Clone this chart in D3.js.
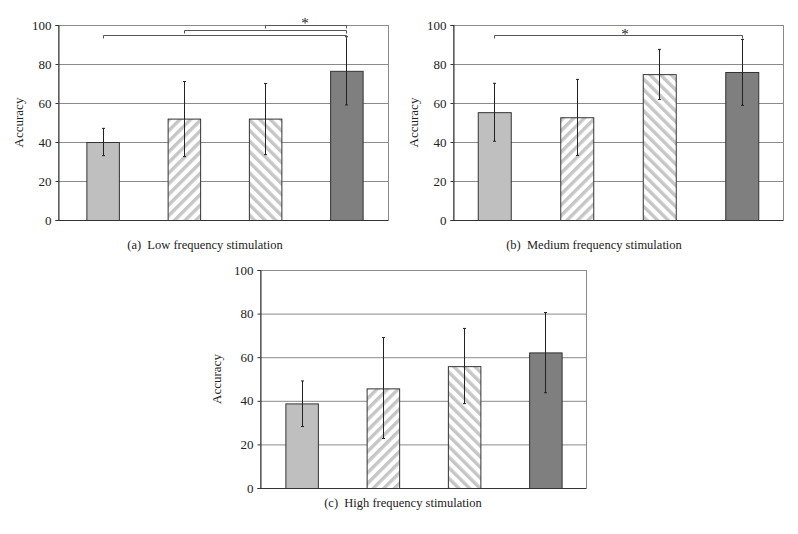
<!DOCTYPE html>
<html>
<head>
<meta charset="utf-8">
<script src="https://cdn.jsdelivr.net/npm/d3@7"></script>
<style>
  body { margin: 0; background: #fff; }
  svg { display: block; }
  text { font-family: "Liberation Serif", "DejaVu Serif", serif; fill: #222; }
</style>
</head>
<body>
<svg id="chart" width="798" height="534"></svg>
<script>
// 4 conditions, same in every panel
const conditions = ["c1", "c2", "c3", "c4"];
const yTicks = [0, 20, 40, 60, 80, 100];

// (a) low frequency
const lowMean = [40, 52, 52, 76.5];
const lowErrLo = [33, 32.5, 33.5, 59];
const lowErrHi = [47, 71, 70, 94];
const lowBrackets = [{ from: 0, to: 3, y: 94.8 }, { from: 1, to: 3, y: 97.4 }, { from: 2, to: 3, y: 100 }];

// (b) medium frequency
const medMean = [55.3, 52.7, 74.8, 75.9];
const medErrLo = [40.4, 33.1, 61.8, 58.8];
const medErrHi = [70.1, 72.1, 87.5, 92.6];
const medBrackets = [{ from: 0, to: 3, y: 95 }];

// (c) high frequency
const highMean = [38.8, 45.7, 55.9, 62.2];
const highErrLo = [28.2, 22.7, 38.7, 43.7];
const highErrHi = [49.1, 69, 73.2, 80.5];
const highBrackets = [];

const captions = ["(a)  Low frequency stimulation", "(b)  Medium frequency stimulation", "(c)  High frequency stimulation"];

const svg = d3.select("#chart");

// hatch patterns
const defs = svg.append("defs");
function hatch(id, angle) {
  const p = defs.append("pattern")
    .attr("id", id)
    .attr("patternUnits", "userSpaceOnUse")
    .attr("width", 7.5).attr("height", 7.5)
    .attr("patternTransform", `rotate(${angle})`);
  p.append("rect").attr("width", 7.5).attr("height", 7.5).attr("fill", "#fff");
  p.append("rect").attr("width", 3.4).attr("height", 7.5).attr("fill", "#c6c6c6");
}
hatch("hatchR", 45);
hatch("hatchL", -45);
const fills = ["#bfbfbf", "url(#hatchR)", "url(#hatchL)", "#7f7f7f"];

function drawPanel(cfg) {
  const g = svg.append("g");
  const y = d3.scaleLinear().domain([0, 100]).range([cfg.bottom, cfg.top]);
  const x = d3.scaleBand().domain(conditions).range(cfg.band).paddingInner(0.6).paddingOuter(0.3);

  // gridlines + frame
  g.selectAll(".grid").data(yTicks.filter(d => d > 0 && d < 100)).enter()
    .append("line")
    .attr("x1", cfg.left).attr("x2", cfg.right)
    .attr("y1", d => y(d) + 0.5).attr("y2", d => y(d) + 0.5)
    .attr("stroke", "#8a8a8a").attr("stroke-width", 1);
  g.append("rect")
    .attr("x", cfg.left + 0.5).attr("y", y(100) + 0.5)
    .attr("width", cfg.right - cfg.left).attr("height", y(0) - y(100))
    .attr("fill", "none").attr("stroke", "#8a8a8a");

  // axis
  const ax = g.append("g")
    .attr("transform", `translate(${cfg.left + 0.5},0)`)
    .call(d3.axisLeft(y).tickValues(yTicks).tickSize(3).tickPadding(4));
  ax.select(".domain").attr("stroke", "#333");
  ax.selectAll(".tick line").attr("stroke", "#333");
  ax.selectAll("text").style("font-family", '"Liberation Serif", serif').style("font-size", "13px").attr("fill", "#222");
  g.append("line")
    .attr("x1", cfg.left).attr("x2", cfg.right)
    .attr("y1", y(0) + 0.5).attr("y2", y(0) + 0.5)
    .attr("stroke", "#333");

  // bars
  g.selectAll(".bar").data(cfg.mean).enter()
    .append("rect")
    .attr("x", (d, i) => x(conditions[i]) + 0.5)
    .attr("y", d => y(d) + 0.5)
    .attr("width", x.bandwidth())
    .attr("height", d => y(0) - y(d))
    .attr("fill", (d, i) => fills[i])
    .attr("stroke", "#333").attr("stroke-width", 1);

  // error bars
  const cx = i => Math.round(x(conditions[i]) + x.bandwidth() / 2) + 0.5;
  cfg.mean.forEach((m, i) => {
    g.append("line")
      .attr("x1", cx(i)).attr("x2", cx(i))
      .attr("y1", y(cfg.lo[i])).attr("y2", y(cfg.hi[i]))
      .attr("stroke", "#222").attr("stroke-width", 1);
    [cfg.lo[i], cfg.hi[i]].forEach(v => {
      g.append("line")
        .attr("x1", cx(i) - 1.5).attr("x2", cx(i) + 1.5)
        .attr("y1", y(v)).attr("y2", y(v))
        .attr("stroke", "#222");
    });
  });

  // significance brackets
  cfg.brackets.forEach(b => {
    const yy = Math.round(y(b.y)) + 0.5;
    g.append("path")
      .attr("d", `M${cx(b.from)},${yy + 3}V${yy}H${cx(b.to)}V${yy + 3}`)
      .attr("fill", "none").attr("stroke", "#555").attr("stroke-width", 1);
  });
  if (cfg.star) {
    g.append("text")
      .attr("x", cfg.star[0]).attr("y", cfg.star[1])
      .attr("text-anchor", "middle")
      .style("font-size", "15px")
      .text("*");
  }

  // y label
  g.append("text")
    .attr("transform", `translate(${cfg.ylabX},${(y(0) + y(100)) / 2}) rotate(-90)`)
    .attr("text-anchor", "middle")
    .style("font-size", "13px")
    .text("Accuracy");

  // caption
  g.append("text")
    .attr("x", cfg.capX).attr("y", cfg.capY)
    .attr("text-anchor", "middle")
    .style("font-size", "12.5px")
    .attr("xml:space", "preserve")
    .text(cfg.caption);
}

drawPanel({ left: 58, right: 388, top: 25, bottom: 220, band: [62, 387],
  mean: lowMean, lo: lowErrLo, hi: lowErrHi, brackets: lowBrackets,
  star: [305, 28], ylabX: 23, capX: 205, capY: 249, caption: captions[0] });
drawPanel({ left: 453, right: 783, top: 25, bottom: 220, band: [453, 783],
  mean: medMean, lo: medErrLo, hi: medErrHi, brackets: medBrackets,
  star: [625, 39], ylabX: 418, capX: 594, capY: 249, caption: captions[1] });
drawPanel({ left: 260, right: 586, top: 270, bottom: 488, band: [261, 586],
  mean: highMean, lo: highErrLo, hi: highErrHi, brackets: highBrackets,
  star: null, ylabX: 221, capX: 403, capY: 507, caption: captions[2] });
</script>
</body>
</html>
